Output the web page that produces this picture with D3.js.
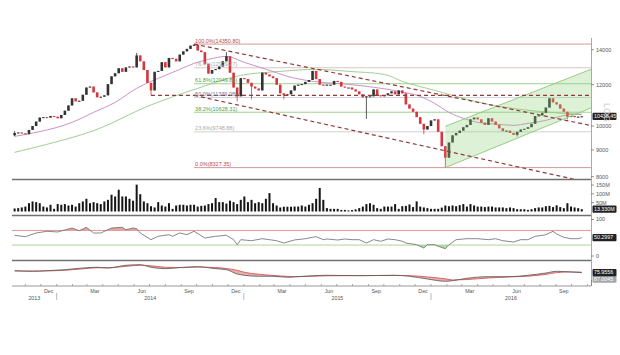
<!DOCTYPE html>
<html lang="en">
<head>
<meta charset="UTF-8">
<title>Weekly chart</title>
<script src="https://cdn.jsdelivr.net/npm/d3@7"></script>
<style>
  body { margin: 0; background: #fff; }
  svg text { font-family: "Liberation Sans", Arial, sans-serif; }
</style>
</head>
<body>
<script>
  // ---- data (weekly, first week closes 2013-10-11) ----
  var firstWeek = "2013-10-11";
  var firstOpen = 9600;
  // open of each week = close of the week before
  var closes = [
    9700, 9720, 9680, 9650, 9830, 10000, 10200, 10380, 10400, 10380,
    10450, 10420, 10350, 10500, 10700, 10950, 11300, 11150, 11180, 11480,
    11850, 11900, 11600, 11350, 11380, 11450, 12030, 12450, 12620, 12900,
    12700, 12950, 13000, 12950, 13650, 13300, 12800, 12100, 11700, 12700,
    12750, 13250, 12950, 13500, 13450, 13300, 13700, 13900, 14050, 14250,
    14300, 13950, 13850, 13150, 12600, 12800, 12850, 13000, 13300, 13600,
    12650, 11850, 11400, 12350, 12300, 12100, 11900, 11800, 11700, 12650,
    12550, 12450, 12350, 12000, 11550, 11450, 11500, 11700, 11950, 12000,
    12030, 12150, 12250, 12750, 12300, 12000, 11950, 12000, 12000, 12200,
    12150, 11900, 11850, 11850, 11750, 11650, 11500, 11350, 11400, 11400,
    11750, 11450, 11400, 11450, 11550, 11650, 11500, 11700, 11550, 11000,
    10800, 10650, 10400, 10100, 9850, 10000, 10250, 10300, 9750, 9150,
    8700, 9300, 9600, 9700, 9800, 9950, 10050, 10300, 10380, 10300,
    10150, 10050, 10350, 10200, 10050, 9900, 9780, 9800, 9700, 9620,
    9750, 9850, 9880, 9950, 10100, 10450, 10480, 10600, 10850, 11300,
    11100, 11000, 10800, 10650, 10420, 10450, 10400, 10420, 10438.45
  ];
  var wickWeeks = [0, 34, 38, 50, 59, 62, 66, 75, 98, 114, 120, 140, 154];
  var wickHighs = [9780, 13800, null, 14350.8, 13850, null, null, null, null, null, null, null, null];
  var wickLows = [9560, null, 11450, null, null, 11150, 11250, 11250, 10320, 9650, 8327.35, 9550, 10300];

  // volume, millions
  var volumes = [
    17, 19, 23, 28, 47, 57, 53, 47, 28, 23,
    38, 15, 42, 38, 42, 34, 38, 28, 47, 57,
    72, 47, 53, 47, 42, 57, 66, 95, 85, 123,
    85, 85, 72, 61, 152, 98, 57, 47, 30, 23,
    53, 34, 28, 47, 15, 34, 38, 38, 34, 38,
    38, 28, 32, 34, 42, 47, 76, 53, 53, 45,
    61, 53, 42, 66, 85, 53, 66, 47, 53, 47,
    72, 104, 47, 34, 23, 27, 27, 27, 28, 28,
    34, 28, 38, 47, 72, 133, 66, 19, 15, 15,
    15, 9, 9, 6, 8, 12, 19, 28, 42, 47,
    38, 19, 15, 28, 28, 28, 42, 15, 30, 32,
    40, 25, 57, 28, 23, 19, 15, 15, 15, 22,
    34, 30, 34, 30, 36, 42, 28, 42, 34, 28,
    28, 25, 28, 28, 23, 23, 23, 19, 23, 19,
    13, 13, 13, 9, 13, 19, 23, 23, 30, 32,
    25, 35, 25, 19, 47, 28, 23, 19, 13.33
  ];

  // moving averages
  var fastMaWeeks = [0, 6, 16, 22, 28, 34, 38, 42, 46, 50, 54, 59, 64, 71, 76, 83, 93, 107, 113, 117, 121, 125, 129, 135, 139, 143, 148, 152, 156, 158];
  var fastMaValues = [9556, 9726, 10164, 10622, 11100, 11807, 12177, 12502, 12838, 13181, 13415, 13593, 13239, 12781, 12448, 12177, 12017, 11652, 11398, 11052, 10622, 10345, 10164, 10075, 10031, 10120, 10254, 10436, 10529, 10529];
  var slowMaWeeks = [0, 9, 23, 37, 51, 63, 74, 84, 93, 103, 108, 117, 124, 132, 146, 158];
  var slowMaValues = [8906, 9226, 9856, 10907, 11807, 12502, 12725, 12838, 12725, 12558, 12177, 11703, 11348, 11003, 10669, 10529];

  // trend lines: [week, price]
  var upperTrend = [[50, 14350.8], [161, 10010]];
  var lowerTrend = [[50, 11450], [161, 7770]];
  var supportLine = [[38, 11450], [161, 11450]];
  var channelLow = [[120, 8327.35], [161, 10860]];
  var channelHigh = [[120, 9990], [161, 12875]];

  // fibonacci retracement
  var fibHigh = 14350.80, fibLow = 8327.35, fibStartWeek = 50;
  var fibRatios = [1, 0.764, 0.618, 0.5, 0.382, 0.236, 0];

  var rsiWeeks = [0, 3, 6, 9, 12, 16, 18, 20, 22, 24, 27, 30, 31, 33, 34, 35, 38, 40, 43, 44, 46, 48, 50, 53, 56, 59, 61, 62, 63, 66, 69, 71, 73, 75, 78, 81, 83, 84, 86, 87, 90, 92, 94, 96, 98, 100, 102, 104, 106, 108, 109, 112, 114, 115, 117, 118, 120, 121, 123, 126, 129, 132, 134, 136, 139, 141, 143, 145, 147, 148, 150, 151, 153, 155, 157, 158];
  var rsiValues = [56.7, 52.9, 63, 67.7, 65.8, 76.7, 69.3, 78.6, 63, 63, 76.7, 78.6, 72, 76.7, 74.8, 63, 44.7, 54, 58.4, 54, 63, 58.4, 67.7, 49.3, 54, 56.7, 44.7, 31, 44.7, 41.9, 47.4, 44.7, 41.9, 35.6, 44, 47.4, 51.2, 52.9, 44.7, 46.6, 43.8, 46.6, 44.7, 44.7, 35.6, 44.7, 40.3, 46.6, 44.7, 40.3, 35.6, 31, 21.9, 31, 31, 26.6, 20, 31, 44.7, 47.4, 47.4, 44.7, 47.4, 41.9, 38.4, 44.7, 44.7, 54, 56.7, 58.4, 67.7, 60.3, 51.2, 47.4, 47.4, 50.2997];

  var macdWeeks = [0, 5, 9, 14, 19, 23, 26, 31, 35, 38, 42, 47, 51, 56, 59, 62, 64, 68, 72, 76, 78, 87, 96, 106, 110, 115, 120, 122, 126, 132, 138, 143, 148, 151, 155, 158];
  var macdValues = [129, 112, 129, 157, 204, 224, 204, 280, 297, 224, 185, 224, 241, 185, 157, 36, 0, -28, -28, -56, -45, 0, -11, 0, -28, -104, -168, -151, -84, -39, -39, 0, 64, 112, 92, 75.9556];
  var signalValues = [120, 120, 122, 140, 180, 210, 210, 250, 280, 265, 225, 215, 230, 215, 190, 140, 85, 30, -5, -30, -38, -15, -8, -5, -10, -45, -100, -130, -120, -75, -45, -25, 25, 75, 95, 88];

  var priceTicks = [14000, 12000, 10000, 9000, 8000];
  var volumeTicks = [150, 100, 50];
  var rsiTicks = [100, 0];
  var rsiBands = [70, 30];
  var lastLabels = {price: "10438.45", volume: "13.330M", rsi: "50.2997", macd: "75.9556", signal: "87.0045"};

  drawChart();

  function drawChart() {
    var svg = d3.select("body").append("svg")
      .attr("width", 620)
      .attr("height", 355);

    var parse = d3.utcParse("%Y-%m-%d");
    var start = parse(firstWeek);
    var weekDate = function (w) { return new Date(start.getTime() + w * 7 * 864e5); };

    var x = d3.scaleUtc().domain([parse("2013-10-02"), parse("2016-11-08")]).range([10, 591]);
    var yPrice = d3.scaleLog().domain([8000, 14000]).range([176.7, 49.7]);
    var yVol = d3.scaleLinear().domain([0, 150]).range([211.5, 185]);
    var yRsi = d3.scaleLinear().domain([0, 100]).range([256, 219.5]);
    var yMacd = d3.scaleLinear().domain([-300, 400]).range([286, 261]);

    var left = 12, right = 591;

    var candles = closes.map(function (c, i) {
      var o = i === 0 ? firstOpen : closes[i - 1];
      var hi = Math.max(o, c), lo = Math.min(o, c);
      var k = wickWeeks.indexOf(i);
      if (k >= 0) {
        if (wickHighs[k] != null) hi = wickHighs[k];
        if (wickLows[k] != null) lo = wickLows[k];
      }
      return {date: weekDate(i), o: o, h: hi, l: lo, c: c};
    });

    var defs = svg.append("defs");
    defs.append("clipPath").attr("id", "priceClip")
      .append("rect").attr("x", 10).attr("y", 38).attr("width", right - 10).attr("height", 141);
    defs.append("clipPath").attr("id", "rsiHigh")
      .append("rect").attr("x", 0).attr("y", 200).attr("width", 620).attr("height", yRsi(70) - 200);
    defs.append("clipPath").attr("id", "rsiLow")
      .append("rect").attr("x", 0).attr("y", yRsi(30)).attr("width", 620).attr("height", 20);

    var price = svg.append("g").attr("clip-path", "url(#priceClip)");

    // fibonacci levels
    var fibLine = ["#d49a9a", "#dcc4c4", "#9fd08f", "#d3d3dd", "#9fd08f", "#d0d0d0", "#d49a9a"];
    var fibText = ["#b54a4a", "#a8a8a8", "#5b9c45", "#6a7690", "#5b9c45", "#a8a8a8", "#b54a4a"];
    var fibX = x(weekDate(fibStartWeek));
    fibRatios.forEach(function (r, k) {
      var level = fibLow + r * (fibHigh - fibLow);
      price.append("line")
        .attr("x1", fibX).attr("x2", right)
        .attr("y1", yPrice(level)).attr("y2", yPrice(level))
        .attr("stroke", fibLine[k]).attr("stroke-width", 1);
      svg.append("text")
        .attr("x", fibX + 1).attr("y", yPrice(level) - 1.5)
        .attr("font-size", 5.5).attr("fill", fibText[k])
        .text((r * 100).toFixed(1) + "%(" + level.toFixed(2) + ")");
    });

    // moving averages
    var maLine = d3.line().curve(d3.curveMonotoneX)
      .x(function (d) { return x(weekDate(d[0])); })
      .y(function (d) { return yPrice(d[1]); });
    price.append("path")
      .attr("d", maLine(slowMaWeeks.map(function (w, i) { return [w, slowMaValues[i]]; })))
      .attr("fill", "none").attr("stroke", "#96c885").attr("stroke-width", 0.9);
    price.append("path")
      .attr("d", maLine(fastMaWeeks.map(function (w, i) { return [w, fastMaValues[i]]; })))
      .attr("fill", "none").attr("stroke", "#c486c4").attr("stroke-width", 0.9);

    // candles
    var bw = 2.6;
    var cg = price.append("g");
    candles.forEach(function (d) {
      var col = d.c >= d.o ? "#333333" : "#d9353d";
      var cx = x(d.date);
      cg.append("line")
        .attr("x1", cx).attr("x2", cx)
        .attr("y1", yPrice(d.h)).attr("y2", yPrice(d.l))
        .attr("stroke", col).attr("stroke-width", 0.8);
      var top = yPrice(Math.max(d.o, d.c)), bot = yPrice(Math.min(d.o, d.c));
      cg.append("rect")
        .attr("x", cx - bw / 2).attr("y", top)
        .attr("width", bw).attr("height", Math.max(1, bot - top))
        .attr("fill", col);
    });

    // rising channel
    var lineGen = d3.line()
      .x(function (d) { return x(weekDate(d[0])); })
      .y(function (d) { return yPrice(d[1]); });
    var poly = channelLow.concat(channelHigh.slice().reverse());
    price.append("path").attr("d", lineGen(poly) + "Z")
      .attr("fill", "#8fd07a").attr("fill-opacity", 0.3);
    [channelLow, channelHigh].forEach(function (l) {
      price.append("path").attr("d", lineGen(l))
        .attr("fill", "none").attr("stroke", "#8cc879").attr("stroke-width", 0.9);
    });

    // dashed trend lines
    [upperTrend, lowerTrend, supportLine].forEach(function (l) {
      price.append("path").attr("d", lineGen(l))
        .attr("fill", "none").attr("stroke", "#8e3b3b")
        .attr("stroke-width", 1.2).attr("stroke-dasharray", "4,3");
    });

    // volume
    svg.append("g").selectAll("rect").data(volumes).enter().append("rect")
      .attr("x", function (d, i) { return x(weekDate(i)) - 1; })
      .attr("y", function (d) { return yVol(d); })
      .attr("width", 2)
      .attr("height", function (d) { return yVol(0) - yVol(d); })
      .attr("fill", "#151515");

    // RSI
    var rsiData = rsiWeeks.map(function (w, i) { return [w, rsiValues[i]]; });
    var rx = function (d) { return x(weekDate(d[0])); };
    svg.append("path").attr("clip-path", "url(#rsiHigh)")
      .attr("d", d3.area().x(rx).y0(yRsi(70)).y1(function (d) { return yRsi(d[1]); })(rsiData))
      .attr("fill", "#e8a3a3");
    svg.append("path").attr("clip-path", "url(#rsiLow)")
      .attr("d", d3.area().x(rx).y0(yRsi(30)).y1(function (d) { return yRsi(d[1]); })(rsiData))
      .attr("fill", "#b5dca6");
    rsiBands.forEach(function (b, k) {
      svg.append("line").attr("x1", left).attr("x2", right)
        .attr("y1", yRsi(b)).attr("y2", yRsi(b))
        .attr("stroke", k === 0 ? "#e39a9a" : "#a9d69a").attr("stroke-width", 1);
    });
    svg.append("path")
      .attr("d", d3.line().x(rx).y(function (d) { return yRsi(d[1]); })(rsiData))
      .attr("fill", "none").attr("stroke", "#6a6a6a").attr("stroke-width", 0.8);

    // MACD
    var macdData = macdWeeks.map(function (w, i) { return [w, macdValues[i], signalValues[i]]; });
    svg.append("path")
      .attr("d", d3.area().curve(d3.curveMonotoneX).x(rx)
        .y0(function (d) { return yMacd(d[2]); })
        .y1(function (d) { return yMacd(d[1]); })(macdData))
      .attr("fill", "#e49a9a").attr("fill-opacity", 0.8);
    svg.append("path")
      .attr("d", d3.line().curve(d3.curveMonotoneX).x(rx).y(function (d) { return yMacd(d[2]); })(macdData))
      .attr("fill", "none").attr("stroke", "#d04a4a").attr("stroke-width", 0.8);
    svg.append("path")
      .attr("d", d3.line().curve(d3.curveMonotoneX).x(rx).y(function (d) { return yMacd(d[1]); })(macdData))
      .attr("fill", "none").attr("stroke", "#555").attr("stroke-width", 0.8);

    // panel separators
    [179.5, 215.5, 260.5].forEach(function (yy) {
      svg.append("line").attr("x1", left).attr("x2", right)
        .attr("y1", yy).attr("y2", yy)
        .attr("stroke", "#707070").attr("stroke-width", 1.4);
    });

    // right axis
    svg.append("line").attr("x1", right + 0.5).attr("x2", right + 0.5)
      .attr("y1", 38).attr("y2", 286).attr("stroke", "#aaa").attr("stroke-width", 1);
    function rightTick(yy, label) {
      svg.append("line").attr("x1", right).attr("x2", right + 3)
        .attr("y1", yy).attr("y2", yy).attr("stroke", "#777").attr("stroke-width", 0.8);
      svg.append("text").attr("x", right + 5).attr("y", yy).attr("dy", "0.35em")
        .attr("font-size", 5.5).attr("fill", "#555").text(label);
    }
    priceTicks.forEach(function (t) { rightTick(yPrice(t), t); });
    volumeTicks.forEach(function (t) { rightTick(yVol(t), t + "M"); });
    rsiTicks.forEach(function (t) { rightTick(yRsi(t), t); });

    function valueBox(yy, label, fill) {
      svg.append("rect").attr("x", right + 1.5).attr("y", yy - 3.6)
        .attr("width", 24).attr("height", 7.2).attr("rx", 1).attr("fill", fill);
      svg.append("text").attr("x", right + 3).attr("y", yy).attr("dy", "0.35em")
        .attr("font-size", 5.3).attr("fill", "#fff").text(label);
    }
    valueBox(yMacd(75.9556) + 6.5, lastLabels.signal, "#a7a7a7");
    valueBox(yPrice(10438.45), lastLabels.price, "#222");
    valueBox(yVol(13.33), lastLabels.volume, "#222");
    valueBox(yRsi(50.2997), lastLabels.rsi, "#222");
    valueBox(yMacd(75.9556), lastLabels.macd, "#222");

    svg.append("text")
      .attr("transform", "translate(604,103) rotate(90)")
      .attr("font-size", 9).attr("fill", "#c8c8c8").text("LOG");

    // time axis
    svg.append("line").attr("x1", left).attr("x2", right)
      .attr("y1", 286).attr("y2", 286).attr("stroke", "#999").attr("stroke-width", 1);
    var dom = x.domain();
    var months = d3.utcMonth.range(d3.utcMonth.ceil(dom[0]), dom[1]);
    months.forEach(function (m) {
      svg.append("line").attr("x1", x(m)).attr("x2", x(m))
        .attr("y1", 284).attr("y2", 286).attr("stroke", "#999").attr("stroke-width", 0.8);
    });
    var monthFmt = d3.utcFormat("%b");
    d3.utcMonth.range(d3.utcMonth.floor(dom[0]), dom[1])
      .filter(function (m) { return m.getUTCMonth() % 3 === 2; })
      .forEach(function (m) {
        var mid = new Date((m.getTime() + d3.utcMonth.offset(m, 1).getTime()) / 2);
        if (x(mid) < left || x(mid) > right) return;
        svg.append("text").attr("x", x(mid)).attr("y", 292.5)
          .attr("text-anchor", "middle").attr("font-size", 5.3).attr("fill", "#555")
          .text(monthFmt(m));
      });
    d3.utcYear.range(d3.utcYear.floor(dom[0]), dom[1]).forEach(function (yr) {
      var a = Math.max(x(yr), left), b = Math.min(x(d3.utcYear.offset(yr, 1)), right);
      svg.append("text").attr("x", (a + b) / 2).attr("y", 299.5)
        .attr("text-anchor", "middle").attr("font-size", 5.3).attr("fill", "#555")
        .text(yr.getUTCFullYear());
      if (x(yr) > left) {
        svg.append("line").attr("x1", x(yr)).attr("x2", x(yr))
          .attr("y1", 293).attr("y2", 300).attr("stroke", "#aaa").attr("stroke-width", 0.8);
      }
    });
    svg.append("line").attr("x1", right + 0.5).attr("x2", right + 0.5)
      .attr("y1", 280).attr("y2", 286).attr("stroke", "#888");
  }
</script>
</body>
</html>
